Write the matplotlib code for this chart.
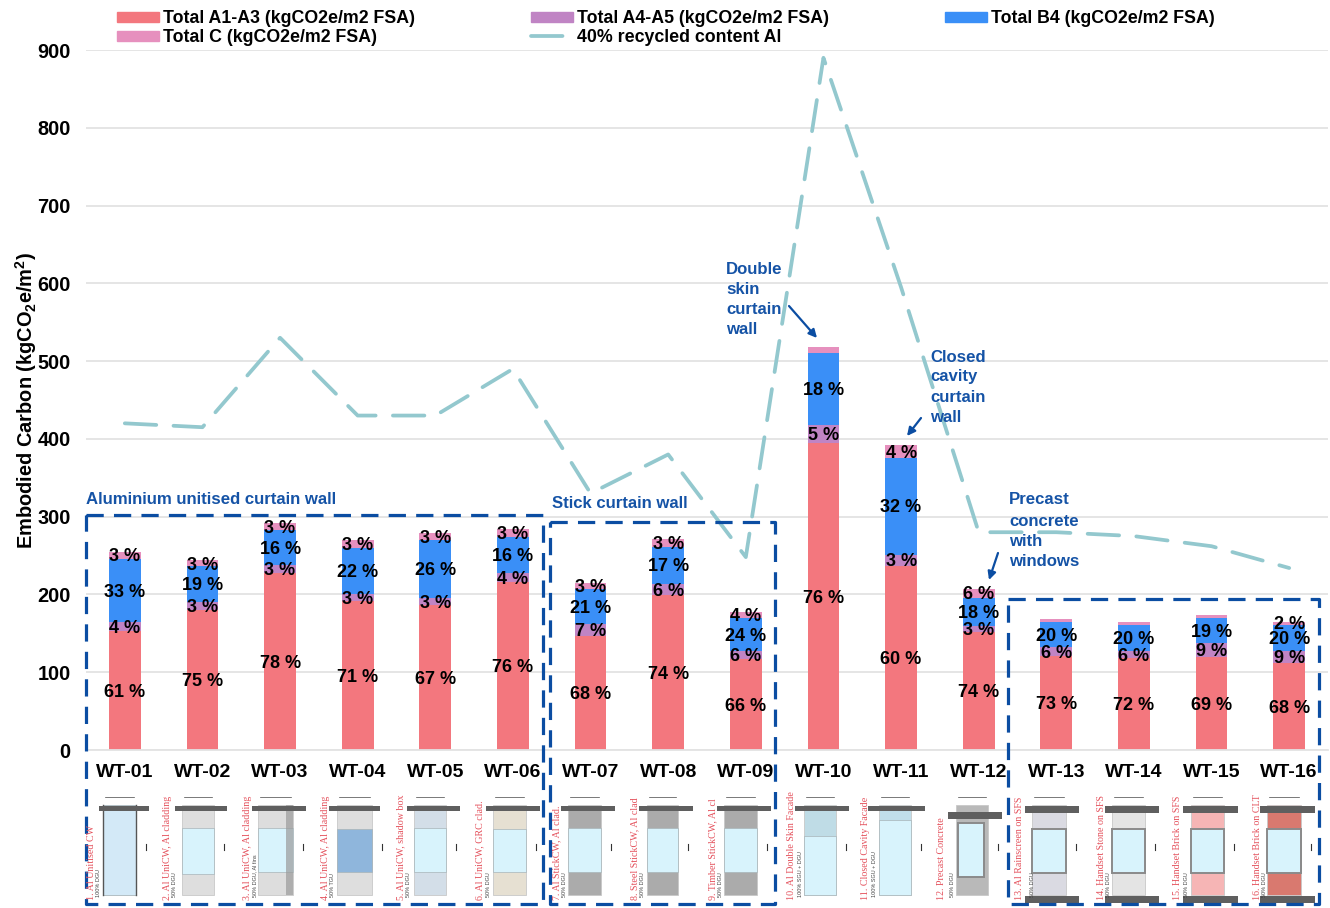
"""
Embodied carbon per facade type, WT-01 to WT-16, stacked by life cycle stage.
Bars and line sit on a normal axes; boxes, notes and the little elevation
sketches go on a transparent overlay axes that works in picture pixels.
"""

import matplotlib
matplotlib.use("Agg")
import matplotlib.pyplot as plt
from matplotlib.patches import Rectangle

plt.rcParams["font.family"] = ["Liberation Sans", "DejaVu Sans"]
plt.rcParams["font.weight"] = "bold"
plt.rcParams["mathtext.default"] = "regular"

# =============================================================================
# Data
# =============================================================================
types = ["WT-01", "WT-02", "WT-03", "WT-04", "WT-05", "WT-06", "WT-07", "WT-08",
         "WT-09", "WT-10", "WT-11", "WT-12", "WT-13", "WT-14", "WT-15", "WT-16"]

a1_a3 = [153, 180, 228, 191, 186, 216, 146, 199, 117, 395, 237, 152, 121, 118, 120, 112]
a4_a5 = [11, 10, 10, 10, 10, 12, 16, 15, 10, 23, 14, 8, 11, 9, 17, 15]
b4 = [82, 46, 45, 59, 74, 46, 45, 47, 43, 92, 125, 36, 33, 34, 33, 34]
c_end = [9, 8, 9, 10, 9, 10, 8, 10, 7, 8, 16, 11, 3, 4, 4, 4]
recycled_40 = [420, 415, 530, 430, 430, 490, 330, 380, 248, 890, 595, 280, 280, 275, 262, 234]

pct_a1_a3 = [61, 75, 78, 71, 67, 76, 68, 74, 66, 76, 60, 74, 73, 72, 69, 68]
pct_a4_a5 = [4, 3, 3, 3, 3, 4, 7, 6, 6, 5, 3, 3, 6, 6, 9, 9]
pct_b4 = [33, 19, 16, 22, 26, 16, 21, 17, 24, 18, 32, 18, 20, 20, 19, 20]
pct_c = [3, 3, 3, 3, 3, 3, 3, 3, 4, None, 4, 6, None, None, None, 2]

captions = ["1. Al Unitised CW", "2. Al UniCW, Al cladding", "3. Al UniCW, Al cladding",
            "4. Al UniCW, Al cladding", "5. Al UniCW, shadow box", "6. Al UniCW, GRC clad.",
            "7. Al StickCW, Al clad.", "8. Steel StickCW, Al clad", "9. Timber StickCW, Al cl",
            "10. Al Double Skin Facade", "11. Closed Cavity Facade", "12. Precast Concrete",
            "13. Al Rainscreen on SFS", "14. Handset Stone on SFS", "15. Handset Brick on SFS",
            "16. Handset Brick on CLT"]
glazing = ["100% DGU", "50% DGU", "50% DGU, Al fins", "50% TGU", "50% DGU", "50% DGU",
           "50% DGU", "50% DGU", "50% DGU", "100% SGU + DGU", "100% SGU + DGU", "50% DGU",
           "50% DGU", "50% DGU", "50% DGU", "50% DGU"]

# =============================================================================
# Colours
# =============================================================================
RED = "#F3777E"
PURPLE = "#C084C4"
BLUE = "#3A8FF7"
PINK = "#E690BE"
TEAL = "#93C8CE"
NAVY = "#0B4DA2"
NOTE = "#1553A6"
CAPTION = "#E4515C"

# =============================================================================
# Chart
# =============================================================================
fig = plt.figure(figsize=(13.3, 9.08), dpi=100)
ax = fig.add_axes([86 / 1330, 1 - 750 / 908, 1242 / 1330, 700 / 908])

x = list(range(len(types)))
bottom = [0] * len(types)
stacks = [
    (a1_a3, RED, "Total A1-A3 (kgCO2e/m2 FSA)", pct_a1_a3),
    (a4_a5, PURPLE, "Total A4-A5 (kgCO2e/m2 FSA)", pct_a4_a5),
    (b4, BLUE, "Total B4 (kgCO2e/m2 FSA)", pct_b4),
    (c_end, PINK, "Total C (kgCO2e/m2 FSA)", pct_c),
]
handles = {}
for values, colour, label, pct in stacks:
    bars = ax.bar(x, values, width=0.41, bottom=bottom, color=colour, label=label, zorder=2)
    handles[label] = bars
    texts = ["" if p is None else f"{p} %" for p in pct]
    ax.bar_label(bars, labels=texts, label_type="center", padding=-1.2, fontsize=13,
                 fontweight="bold", color="black", zorder=6)
    bottom = [b + v for b, v in zip(bottom, values)]

line, = ax.plot(x, recycled_40, color=TEAL, linewidth=2.7, dashes=(8.4, 4.6),
                dash_capstyle="round", label="40% recycled content Al", zorder=3)

ax.set_xlim(-0.5, 15.5)
ax.set_ylim(0, 900)
ax.set_yticks(range(0, 901, 100))
ax.set_xticks(x)
ax.set_xticklabels(types)
ax.tick_params(axis="y", length=0, pad=11, labelsize=14.3)
ax.tick_params(axis="x", length=0, pad=10, labelsize=14)
ax.grid(axis="y", color="#E3E3E3", linewidth=1.3, zorder=0)
ax.set_axisbelow(True)
for side in ["top", "right", "left"]:
    ax.spines[side].set_visible(False)
ax.spines["bottom"].set_color("#E3E3E3")
ax.spines["bottom"].set_linewidth(1.3)
ax.set_ylabel("Embodied Carbon (kgCO$_2$e/m$^2$)", fontsize=14.4, fontweight="bold", labelpad=-1)

# columns fill top-down, so this order gives the reading order of the original
order = ["Total A1-A3 (kgCO2e/m2 FSA)", "Total C (kgCO2e/m2 FSA)",
         "Total A4-A5 (kgCO2e/m2 FSA)", None, "Total B4 (kgCO2e/m2 FSA)"]
leg_handles = [Rectangle((0, 0), 1, 1, color=handles[k][0].get_facecolor()) if k else line
               for k in order]
leg_labels = [k if k else line.get_label() for k in order]
fig.legend(leg_handles, leg_labels, ncols=3, frameon=False,
           loc="upper left", bbox_to_anchor=(117 / 1330, 1 - 10 / 908), borderaxespad=0,
           borderpad=0, handlelength=2.36, handleheight=0.5, handletextpad=0.25,
           columnspacing=6.5, labelspacing=0.12, prop={"weight": "bold", "size": 12.8})

# =============================================================================
# Overlay in pixel coordinates
# =============================================================================
over = fig.add_axes([0, 0, 1, 1], zorder=5)
over.set_xlim(0, 1330)
over.set_ylim(908, 0)
over.axis("off")

# --- dashed group boxes ---
for bx0, by0, bx1, by1 in [(86, 515, 543, 904), (550, 522, 775, 904), (1008, 599, 1319, 904)]:
    over.plot([bx0, bx1, bx1, bx0, bx0], [by0, by0, by1, by1, by0], color=NAVY, linewidth=2.3,
              dashes=(5.4, 3.2), dash_capstyle="butt", zorder=4)

# --- notes ---
for tx, ty, txt in [(86, 500, "Aluminium unitised curtain wall"), (552, 503, "Stick curtain wall")]:
    over.text(tx, ty, txt, color=NOTE, fontsize=12.1, va="center", ha="left")

for tx, ys, words in [(726, [269, 290, 310, 330], ["Double", "skin", "curtain", "wall"]),
                      (930, [357, 377, 397, 417], ["Closed", "cavity", "curtain", "wall"]),
                      (1009, [500, 521, 541, 561], ["Precast", "concrete", "with", "windows"])]:
    for ty, word in zip(ys, words):
        over.text(tx, ty, word, color=NOTE, fontsize=12.1, va="center", ha="left")

for start, end in [((789, 306), (817, 338)), ((921, 418), (907, 436)), ((998, 553), (989, 580))]:
    over.annotate("", xy=end, xytext=start,
                  arrowprops=dict(arrowstyle="-|>", color=NAVY, linewidth=1.6,
                                  mutation_scale=12, shrinkA=0, shrinkB=0))

# --- facade elevation sketches ---
caption_x = [91, 167, 247, 325, 401, 480, 557, 635, 713, 792, 866, 942, 1019, 1102, 1178, 1257]
glazing_x = [99, 175, 255, 332, 409, 489, 564, 643, 720, 800, 874, 952, 1033, 1108, 1186, 1264]
panel_x0 = [103, 182, 258, 337, 414, 493, 568, 647, 724, 804, 879, 956, 1032, 1112, 1191, 1267]
panel_w = [33, 32, 35, 35, 32, 33, 33, 31, 33, 32, 32, 32, 34, 33, 33, 34]
slab_x0 = [99, 175, 252, 329, 407, 486, 561, 639, 717, 795, 868, 948, 1025, 1105, 1183, 1260]
slab_x1 = [149, 227, 306, 380, 460, 540, 615, 693, 771, 849, 925, 1002, 1079, 1159, 1238, 1315]
spandrel = ["#D3E9F7", "#DEDEDE", "#DDDDDD", "#DEDEDE", "#D3DEE8", "#E6E0D2", "#ABABAB", "#ABABAB",
            "#ABABAB", "#BFDCE6", "#C0DEEA", "#B9B9B9", "#DADAE2", "#E4E4E4", "#F6B5B5", "#D9796F"]
glass = ["#D3E9F7", "#D8F3FC", "#D8F3FC", "#8FB6DC", "#D8F3FC", "#D8F3FC", "#D8F3FC", "#D8F3FC",
         "#D8F3FC", "#D8F3FC", "#D8F3FC", "#D8F3FC", "#D8F3FC", "#D8F3FC", "#D8F3FC", "#D8F3FC"]
glass_top = [805, 828, 828, 829, 828, 829, 828, 828, 828, 836, 820, 823, 829, 829, 829, 829]
glass_bot = [895, 874, 872, 872, 872, 872, 872, 872, 872, 895, 895, 877, 873, 873, 873, 873]
has_base_slab = [False] * 12 + [True] * 4

for i in range(len(types)):
    px0, pw = panel_x0[i], panel_w[i]
    over.add_patch(Rectangle((px0, 805), pw, 90, facecolor=spandrel[i], edgecolor="#C8C8C8",
                             linewidth=0.6, zorder=1))
    inset = 2 if i == 11 else 0
    over.add_patch(Rectangle((px0 + inset, glass_top[i]), pw - 3 * inset,
                             glass_bot[i] - glass_top[i], facecolor=glass[i],
                             edgecolor="#8A8A8A" if i >= 11 else "#A8B4B8",
                             linewidth=1.4 if i >= 11 else 0.5, zorder=2))
    if i == 0:
        # unitised panel: dark mullions down both sides
        over.plot([px0, px0], [805, 895], color="#555555", linewidth=1.0, zorder=3)
        over.plot([px0 + pw, px0 + pw], [805, 895], color="#555555", linewidth=1.0, zorder=3)
    if i == 2:
        # Al fin down the right hand side
        over.add_patch(Rectangle((px0 + pw - 7, 805), 7, 90, facecolor="#9A9A9A", alpha=0.7, zorder=3))
    slab_y = 815 if i == 11 else 809
    over.add_patch(Rectangle((slab_x0[i], slab_y - 3), slab_x1[i] - slab_x0[i], 5 if i < 11 else 7,
                             facecolor="#5F5F5F", zorder=3))
    if has_base_slab[i]:
        over.add_patch(Rectangle((slab_x0[i], 896), slab_x1[i] - slab_x0[i], 7,
                                 facecolor="#5F5F5F", zorder=3))
    # dimension mark to the right of the panel
    over.plot([px0 + pw + 10, px0 + pw + 10], [844, 850], color="#333333", linewidth=0.8, zorder=3)
    over.plot([px0 + 2, px0 + pw - 2], [797, 797], color="#444444", linewidth=0.5, zorder=3)

    over.text(caption_x[i], 900, captions[i], rotation=90, ha="center", va="bottom",
              family="Liberation Serif", fontweight="normal", fontsize=7.2, color=CAPTION, zorder=4)
    over.text(glazing_x[i], 897, glazing[i], rotation=90, ha="center", va="bottom",
              fontweight="normal", fontsize=4, color="#444444", zorder=4)

fig.savefig("out.png", dpi=100)
